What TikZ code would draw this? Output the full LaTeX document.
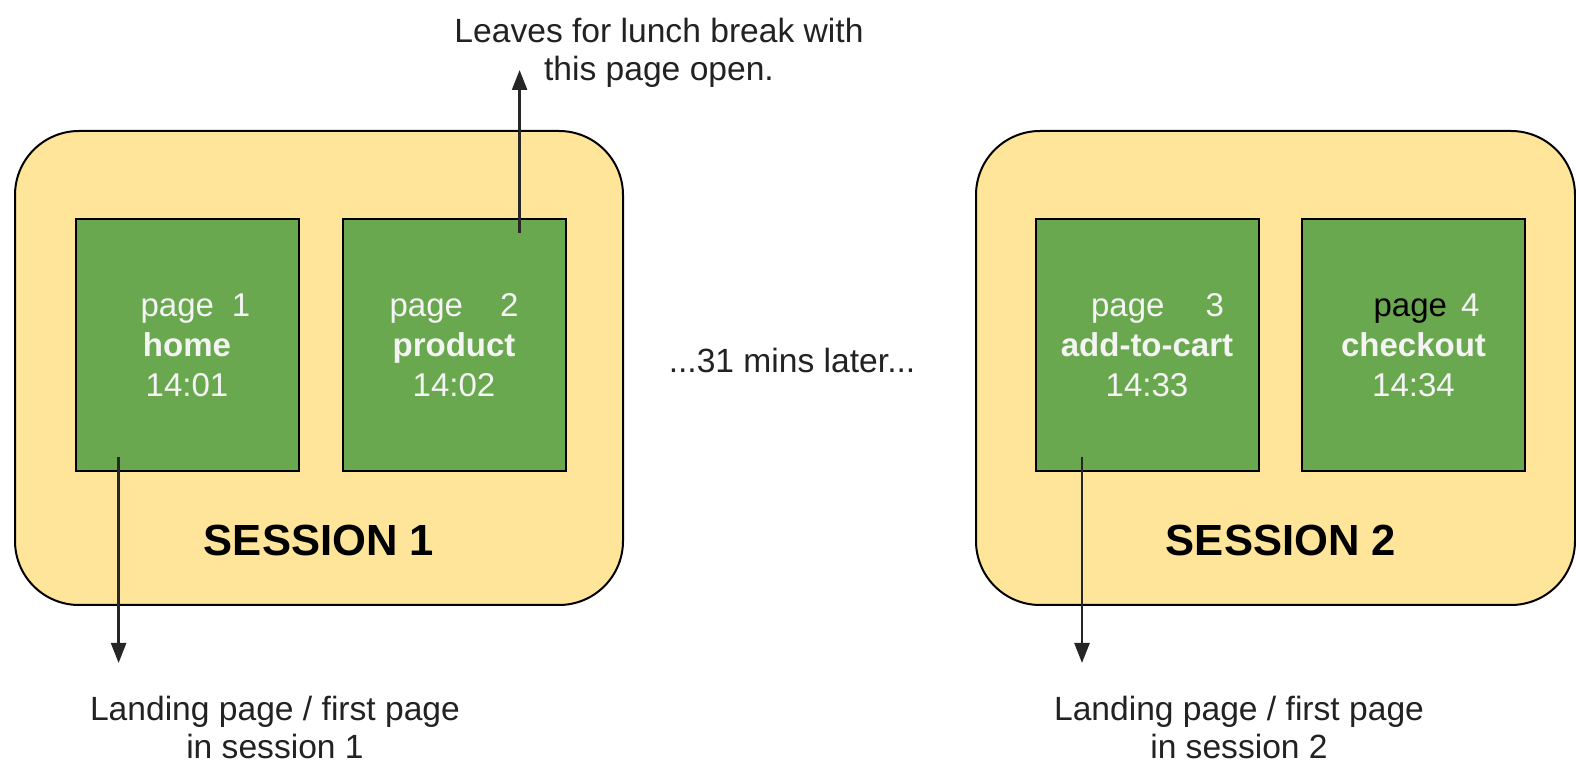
\documentclass[tikz,border=0pt]{standalone}
\usepackage{fontspec}
\setmainfont{Liberation Sans}
\usetikzlibrary{arrows.meta}
\definecolor{sessfill}{HTML}{FFE599}
\definecolor{pagefill}{HTML}{6AA84F}
\definecolor{pagetext}{HTML}{F4F4F4}
\definecolor{labeltext}{HTML}{222222}
\tikzset{
  sessionbox/.style={draw=black, line width=1pt, fill=sessfill, rounded corners=32pt, inner sep=0pt},
  pagebox/.style={draw=black, line width=1pt, fill=pagefill, minimum width=111.5pt, minimum height=125.6pt, inner sep=0pt, align=center, text=pagetext, font=\fontsize{16.5}{20}\selectfont},
  sesslabel/.style={font=\fontsize{21.8}{26}\selectfont\bfseries, text=black, inner sep=0pt},
  note/.style={align=center, text=labeltext, font=\fontsize{16.8}{19}\selectfont, inner sep=0pt},
  arr/.style={line width=1.2pt, draw=black!85, -{Triangle[width=7.5pt,length=10pt]}}
}
\begin{document}
\begin{tikzpicture}[x=0.5pt,y=-0.5pt]
\useasboundingbox (0,0) rectangle (1576,764);
\fill[white] (0,0) rectangle (1576,764);
% sessions
\node[sessionbox, minimum width=304pt, minimum height=237pt] (s1) at (319,368) {};
\node[sessionbox, minimum width=299.5pt, minimum height=237pt] (s2) at (1275.5,368) {};
\node[sesslabel] (l1) at (319,540) {SESSION 1};
\node[sesslabel] (l2) at (1281,540) {SESSION 2};
% pages
\node[pagebox] (p1) at (187,345) {\hspace*{8.5pt}page\hspace{9pt}1\\ \textbf{home}\\ 14:01};
\node[pagebox] (p2) at (454,345) {page\hspace{18.5pt}2\\ \textbf{product}\\ 14:02};
\node[pagebox] (p3) at (1147,345) {\hspace*{10.5pt}page\hspace{20.5pt}3\\ \textbf{add-to-cart}\\ 14:33};
\node[pagebox] (p4) at (1413.5,345) {\hspace*{13pt}\textcolor{black}{page}\hspace{7pt}4\\ \textbf{checkout}\\ 14:34};
% middle text
\node[note] (mid) at (792,360) {...31 mins later...};
% top note
\node[note] (top) at (659,53) {Leaves for lunch break with\\ this page open.};
\coordinate (upstart) at (519.6,233);
\coordinate (upend) at (519.6,70);
\draw[arr] (upstart) -- (upend);
% bottom notes
\node[note] (b1) at (275,727) {Landing page / first page\\ in session 1};
\node[note] (b2) at (1239,727) {Landing page / first page\\ in session 2};
\coordinate (d1start) at (118.6,457);
\coordinate (d1end) at (118.6,663);
\coordinate (d2start) at (1082,457);
\coordinate (d2end) at (1082,663);
\draw[arr] (d1start) -- (d1end);
\draw[arr] (d2start) -- (d2end);
\end{tikzpicture}
\end{document}
